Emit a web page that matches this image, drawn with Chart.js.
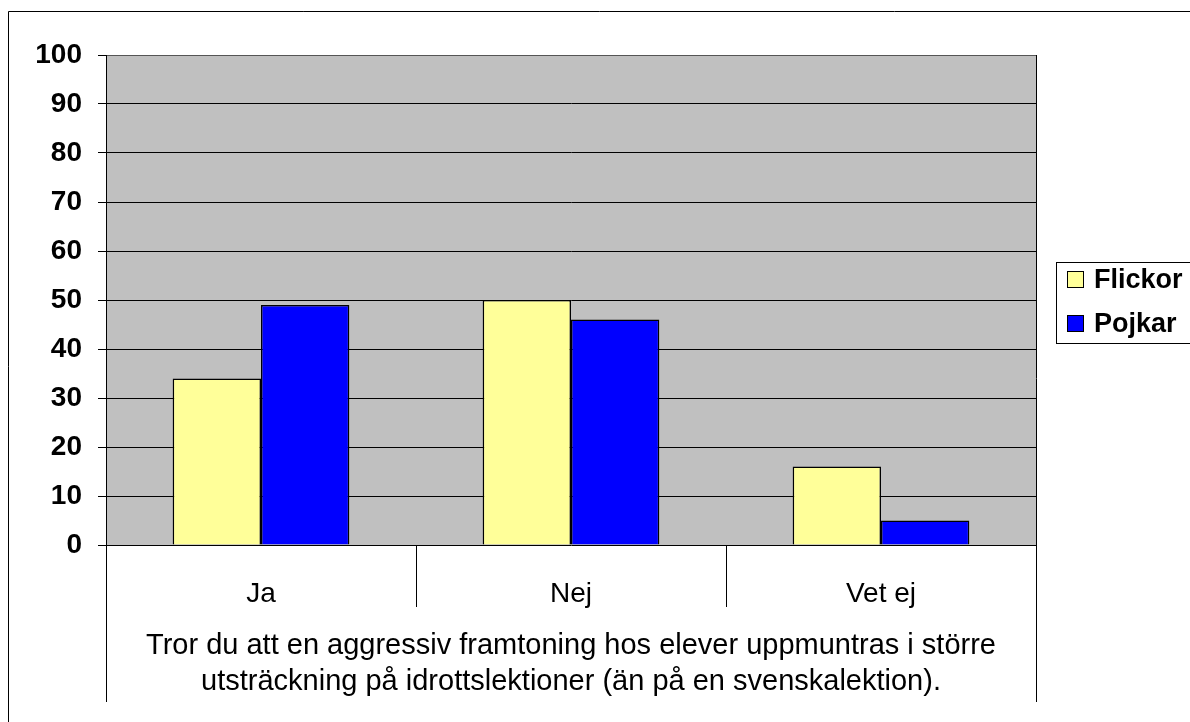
<!DOCTYPE html>
<html>
<head>
<meta charset="utf-8">
<script src="https://cdn.jsdelivr.net/npm/chart.js@4"></script>
<style>
  html, body { margin: 0; padding: 0; background: #fff; }
  #wrap { width: 1190px; height: 722px; }
</style>
</head>
<body>
<div id="wrap"><canvas id="chart" width="1190" height="722"></canvas></div>
<script>
// data
const categories = ['Ja', 'Nej', 'Vet ej'];
const flickor = [34, 50, 16];
const pojkar = [49, 46, 5];
const yTicks = [0, 10, 20, 30, 40, 50, 60, 70, 80, 90, 100];
const question = [
  'Tror du att en aggressiv framtoning hos elever uppmuntras i större',
  'utsträckning på idrottslektioner (än på en svenskalektion).'
];

const FONT = "'Liberation Sans', Arial, sans-serif";

// grey plot area, frame, category separators, legend box
const decor = {
  id: 'decor',
  beforeDraw(chart) {
    const ctx = chart.ctx;
    const a = chart.chartArea;
    ctx.save();
    ctx.fillStyle = '#c0c0c0';
    ctx.fillRect(a.left, a.top, a.right - a.left, a.bottom - a.top);
    ctx.restore();
  },
  afterDraw(chart) {
    const ctx = chart.ctx;
    const a = chart.chartArea;
    const x = chart.scales.x;
    ctx.save();
    ctx.strokeStyle = '#000';
    ctx.lineWidth = 1;
    // outer frame
    ctx.beginPath();
    ctx.moveTo(8.5, 722);
    ctx.lineTo(8.5, 11.5);
    ctx.lineTo(1190, 11.5);
    ctx.stroke();
    // plot border top
    ctx.strokeStyle = '#555';
    ctx.beginPath();
    ctx.moveTo(a.left, a.top + 0.5);
    ctx.lineTo(a.right, a.top + 0.5);
    ctx.stroke();
    ctx.strokeStyle = '#000';
    // category separators
    for (let i = 0; i <= categories.length; i++) {
      const px = Math.round(x.getPixelForValue(i - 0.5)) + 0.5;
      const long = (i === 0 || i === categories.length);
      ctx.beginPath();
      ctx.moveTo(px, long ? a.top : a.bottom);
      ctx.lineTo(px, long ? 702 : 607);
      ctx.stroke();
    }
    // legend
    const lx = 1056.5, ly = 262.5;
    ctx.fillStyle = '#fff';
    ctx.fillRect(lx, ly, 140, 81);
    ctx.strokeRect(lx, ly, 140, 81);
    const items = chart.data.datasets;
    items.forEach((ds, i) => {
      const cy = 280 + i * 44;
      ctx.fillStyle = ds.backgroundColor;
      ctx.fillRect(1067.5, cy - 8.5, 16, 16);
      ctx.strokeRect(1067.5, cy - 8.5, 16, 16);
      ctx.fillStyle = '#000';
      ctx.font = 'bold 27px ' + FONT;
      ctx.textBaseline = 'middle';
      ctx.textAlign = 'left';
      ctx.fillText(ds.label, 1094, cy + 1);
    });
    ctx.restore();
  }
};

new Chart(document.getElementById('chart').getContext('2d'), {
  type: 'bar',
  data: {
    labels: categories,
    datasets: [
      { label: 'Flickor', data: flickor, backgroundColor: '#ffff99', borderColor: '#000', borderWidth: 1.5 },
      { label: 'Pojkar', data: pojkar, backgroundColor: '#0000ff', borderColor: '#000', borderWidth: 1.5 }
    ]
  },
  options: {
    responsive: false,
    animation: false,
    events: [],
    layout: { padding: { top: 55, right: 154, left: 0, bottom: 0 } },
    datasets: { bar: { categoryPercentage: 0.57, barPercentage: 1 } },
    scales: {
      x: {
        afterFit(scale) { scale.height = 177; },
        grid: { display: false },
        border: { display: false },
        ticks: { color: '#000', font: { family: FONT, size: 28 }, padding: 24 },
        title: {
          display: true,
          text: question,
          color: '#000',
          font: { family: FONT, size: 29, lineHeight: 1.24 },
          padding: { top: 0, bottom: 22 }
        }
      },
      y: {
        min: 0,
        max: 100,
        afterFit(scale) { scale.width = 106; },
        afterBuildTicks(scale) { scale.ticks = yTicks.map(v => ({ value: v })); },
        grid: { color: '#000', lineWidth: 1, tickLength: 8 },
        border: { display: true, color: '#000' },
        ticks: { color: '#000', font: { family: FONT, size: 28, weight: 'bold' }, padding: 16 }
      }
    },
    plugins: {
      legend: { display: false },
      tooltip: { enabled: false }
    }
  },
  plugins: [decor]
});
</script>
</body>
</html>
